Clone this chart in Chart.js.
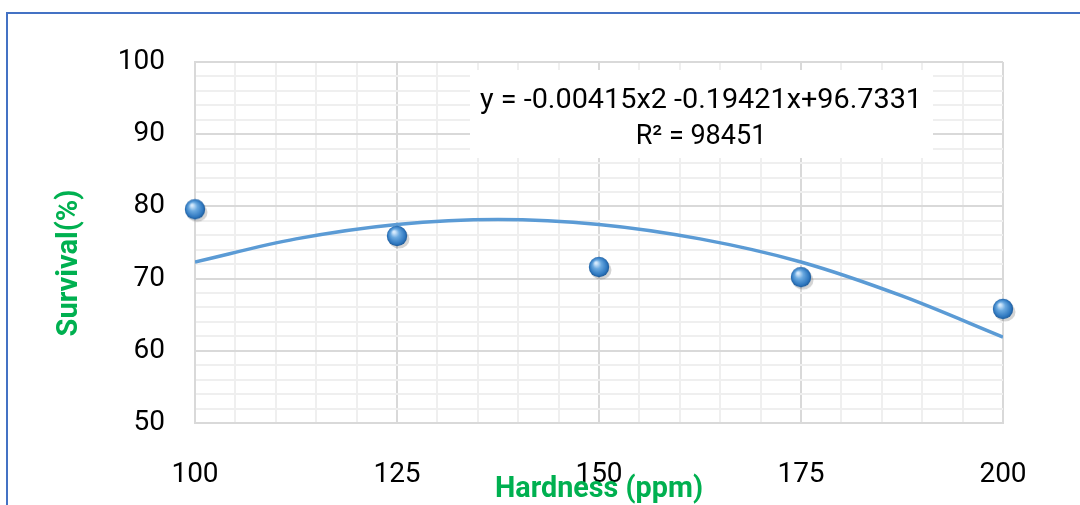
<!DOCTYPE html>
<html>
<head>
<meta charset="utf-8">
<script src="https://cdn.jsdelivr.net/npm/chart.js@4"></script>
<style>
    html, body { margin: 0; padding: 0; background: #fff; overflow: hidden; }
    #frame { position: absolute; left: 6px; top: 12px; width: 2000px; height: 2000px;
             border-left: 2px solid #4472c4; border-top: 2px solid #4472c4; }
    #wrap { position: absolute; left: 0; top: 0; width: 1080px; height: 505px; }
</style>
</head>
<body>
<div id="frame"></div>
<div id="wrap"><canvas id="chart" width="1080" height="505"></canvas></div>
<script>
// Data
const hardness = [100, 125, 150, 175, 200];
const survival = [79.6, 75.9, 71.6, 70.2, 65.8];
const trendHardness = [100, 112.5, 125, 137.5, 150, 162.5, 175, 187.5, 200];
const trendSurvival = [72.3, 75.5, 77.5, 78.2, 77.5, 75.5, 72.3, 67.6, 61.9];
const xTickLabels = [100, 125, 150, 175, 200];
const yTickLabels = [50, 60, 70, 80, 90, 100];
const equationLines = ['y = -0.00415x2 -0.19421x+96.7331', 'R\u00B2 = 98451'];

const GREEN = '#00b050';
const MAJOR = '#d9d9d9';
const MINOR = '#efefef';

// glossy sphere used as point marker
function makeSphere() {
    const c = document.createElement('canvas');
    c.width = 32; c.height = 32;
    const g = c.getContext('2d');
    g.fillStyle = 'rgba(60,60,60,0.22)';
    g.beginPath(); g.ellipse(18, 19, 10.5, 9.5, 0, 0, Math.PI * 2); g.fill();
    const grad = g.createRadialGradient(13, 12, 1, 16, 16, 10.5);
    grad.addColorStop(0, '#d4e9fc');
    grad.addColorStop(0.35, '#6aa9e0');
    grad.addColorStop(0.8, '#2f78c0');
    grad.addColorStop(1, '#1b5693');
    g.fillStyle = grad;
    g.beginPath(); g.arc(16, 16, 10.2, 0, Math.PI * 2); g.fill();
    return c;
}

// squeeze text horizontally to a given width (the titles use a condensed face)
function fitText(ctx, text, x, y, width) {
    const w = ctx.measureText(text).width;
    ctx.save();
    ctx.translate(x, y);
    ctx.scale(width / w, 1);
    ctx.fillText(text, 0, 0);
    ctx.restore();
}

const decorations = {
    id: 'decorations',
    afterDraw(chart) {
        const ctx = chart.ctx;
        ctx.save();
        // equation box
        ctx.fillStyle = '#fff';
        ctx.fillRect(470, 70, 463, 88);
        ctx.fillStyle = '#000';
        ctx.font = '27px Roboto';
        ctx.textAlign = 'center';
        ctx.textBaseline = 'middle';
        fitText(ctx, equationLines[0], 701, 101, 442);
        ctx.fillText(equationLines[1], 701, 137);

        // axis titles
        ctx.fillStyle = GREEN;
        ctx.font = 'bold 30px Roboto';
        ctx.textBaseline = 'alphabetic';
        fitText(ctx, 'Hardness (ppm)', 599, 497, 208);
        ctx.translate(77, 263);
        ctx.rotate(-Math.PI / 2);
        fitText(ctx, 'Survival(%)', 0, 0, 147);
        ctx.restore();
    }
};

new Chart(document.getElementById('chart'), {
    type: 'scatter',
    data: {
        datasets: [{
            label: 'Survival',
            data: hardness.map((x, i) => ({ x, y: survival[i] })),
            pointStyle: makeSphere(),
            pointRadius: 10,
            pointHoverRadius: 10,
            clip: false
        }, {
            label: 'Trend',
            data: trendHardness.map((x, i) => ({ x, y: trendSurvival[i] })),
            showLine: true,
            borderColor: '#5b9bd5',
            borderWidth: 3.5,
            pointRadius: 0,
            cubicInterpolationMode: 'monotone',
            fill: false
        }]
    },
    plugins: [decorations],
    options: {
        responsive: false,
        animation: false,
        layout: { padding: { left: 0, top: 62, right: 77, bottom: 0 } },
        plugins: { legend: { display: false }, tooltip: { enabled: false } },
        scales: {
            x: {
                min: 100, max: 200,
                afterFit: s => { s.height = 82; },
                afterBuildTicks: s => { s.ticks = []; for (let v = 100; v <= 200; v += 5) s.ticks.push({ value: v }); },
                ticks: {
                    padding: 35,
                    color: '#000',
                    font: { family: 'Roboto', size: 28 },
                    maxRotation: 0,
                    autoSkip: false,
                    callback: v => xTickLabels.includes(v) ? String(v) : ''
                },
                grid: {
                    drawTicks: false,
                    color: c => (c.tick && xTickLabels.includes(c.tick.value)) ? MAJOR : MINOR,
                    lineWidth: 2
                },
                border: { color: MAJOR, width: 2 }
            },
            y: {
                min: 50, max: 100,
                afterFit: s => { s.width = 195; },
                afterBuildTicks: s => { s.ticks = []; for (let v = 50; v <= 100; v += 2) s.ticks.push({ value: v }); },
                ticks: {
                    padding: 30,
                    color: '#000',
                    font: { family: 'Roboto', size: 28 },
                    autoSkip: false,
                    callback: v => yTickLabels.includes(v) ? String(v) : ''
                },
                grid: {
                    drawTicks: false,
                    color: c => (c.tick && yTickLabels.includes(c.tick.value)) ? MAJOR : MINOR,
                    lineWidth: 2
                },
                border: { color: MAJOR, width: 2 }
            }
        }
    }
});
</script>
</body>
</html>
